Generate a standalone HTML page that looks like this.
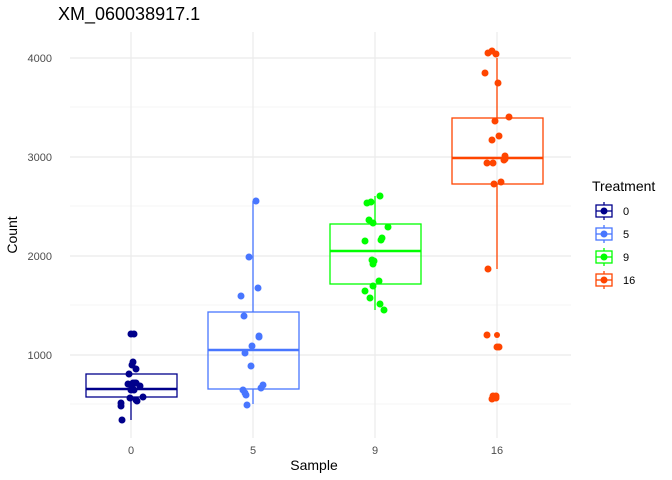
<!DOCTYPE html>
<html><head><style>body{margin:0;background:#fff}svg{display:block}text{font-family:"Liberation Sans",sans-serif}</style></head><body>
<svg width="672" height="480" xmlns="http://www.w3.org/2000/svg">
<rect width="672" height="480" fill="#fff"/>
<g stroke="#ebebeb" stroke-width="0.6">
<line x1="70" x2="571" y1="404" y2="404"/><line x1="70" x2="571" y1="305" y2="305"/><line x1="70" x2="571" y1="206" y2="206"/><line x1="70" x2="571" y1="107" y2="107"/>
</g>
<g stroke="#ebebeb" stroke-width="1.2">
<line x1="70" x2="571" y1="355" y2="355"/><line x1="70" x2="571" y1="256" y2="256"/><line x1="70" x2="571" y1="157" y2="157"/><line x1="70" x2="571" y1="58" y2="58"/>
<line x1="131" x2="131" y1="32" y2="438"/><line x1="253" x2="253" y1="32" y2="438"/><line x1="375" x2="375" y1="32" y2="438"/><line x1="497" x2="497" y1="32" y2="438"/>
</g>
<g font-size="11" fill="#4d4d4d" text-anchor="end">
<text x="52" y="359">1000</text><text x="52" y="260">2000</text><text x="52" y="161">3000</text><text x="52" y="62">4000</text>
</g>
<g font-size="11" fill="#4d4d4d" text-anchor="middle">
<text x="131" y="454">0</text><text x="253" y="454">5</text><text x="375" y="454">9</text><text x="497" y="454">16</text>
</g>
<text x="314" y="470" font-size="14" text-anchor="middle">Sample</text>
<text transform="translate(17,235) rotate(-90)" font-size="14" text-anchor="middle">Count</text>
<text x="58" y="20" font-size="18">XM_060038917.1</text>
<!-- boxes -->
<g fill="none" stroke-width="1.3">
<g stroke="#00008B"><line x1="131" x2="131" y1="397" y2="420"/><rect x="86" y="374" width="91" height="23"/><line x1="86" x2="177" y1="389" y2="389" stroke-width="2.5"/></g>
<g stroke="#4876FF"><line x1="253" x2="253" y1="201" y2="312"/><line x1="253" x2="253" y1="389" y2="404"/><rect x="208" y="312" width="91" height="77"/><line x1="208" x2="299" y1="350" y2="350" stroke-width="2.5"/></g>
<g stroke="#00FF00"><line x1="375" x2="375" y1="196" y2="224"/><line x1="375" x2="375" y1="284" y2="310"/><rect x="330" y="224" width="91" height="60"/><line x1="330" x2="421" y1="251" y2="251" stroke-width="2.5"/></g>
<g stroke="#FF4500"><line x1="497" x2="497" y1="58" y2="118"/><line x1="497" x2="497" y1="184" y2="269"/><rect x="452" y="118" width="91" height="66"/><line x1="452" x2="543" y1="158" y2="158" stroke-width="2.5"/></g>
</g>
<g fill="#00008B">
<circle cx="131" cy="334" r="3.5"/><circle cx="134" cy="334" r="3.5"/><circle cx="133" cy="362" r="3.5"/><circle cx="132" cy="365" r="3.5"/><circle cx="136" cy="369" r="3.5"/><circle cx="129" cy="374" r="3.5"/><circle cx="128" cy="384" r="3.5"/><circle cx="133" cy="383" r="3.5"/><circle cx="136" cy="383" r="3.5"/><circle cx="140" cy="386" r="3.5"/><circle cx="131" cy="390" r="3.5"/><circle cx="134" cy="390" r="3.5"/><circle cx="130" cy="398" r="3.5"/><circle cx="136" cy="400" r="3.5"/><circle cx="143" cy="397" r="3.5"/><circle cx="121" cy="403" r="3.5"/><circle cx="121" cy="406" r="3.5"/><circle cx="122" cy="420" r="3.5"/><circle cx="135" cy="383" r="3.5"/><circle cx="137" cy="401" r="3.5"/><circle cx="132" cy="387" r="3.5"/>
</g>
<g fill="#4876FF">
<circle cx="256" cy="201" r="3.5"/><circle cx="249" cy="257" r="3.5"/><circle cx="258" cy="288" r="3.5"/><circle cx="241" cy="296" r="3.5"/><circle cx="244" cy="316" r="3.5"/><circle cx="259" cy="336" r="3.5"/><circle cx="252" cy="346" r="3.5"/><circle cx="245" cy="353" r="3.5"/><circle cx="251" cy="366" r="3.5"/><circle cx="243" cy="390" r="3.5"/><circle cx="245" cy="393" r="3.5"/><circle cx="246" cy="395" r="3.5"/><circle cx="261" cy="388" r="3.5"/><circle cx="263" cy="385" r="3.5"/><circle cx="247" cy="405" r="3.5"/><circle cx="259" cy="337" r="3.5"/>
</g>
<g fill="#00FF00">
<circle cx="380" cy="196" r="3.5"/><circle cx="367" cy="203" r="3.5"/><circle cx="371" cy="202" r="3.5"/><circle cx="369" cy="220" r="3.5"/><circle cx="373" cy="223" r="3.5"/><circle cx="388" cy="227" r="3.5"/><circle cx="365" cy="241" r="3.5"/><circle cx="382" cy="238" r="3.5"/><circle cx="381" cy="240" r="3.5"/><circle cx="372" cy="260" r="3.5"/><circle cx="374" cy="261" r="3.5"/><circle cx="373" cy="264" r="3.5"/><circle cx="379" cy="281" r="3.5"/><circle cx="373" cy="286" r="3.5"/><circle cx="365" cy="291" r="3.5"/><circle cx="370" cy="298" r="3.5"/><circle cx="380" cy="304" r="3.5"/><circle cx="384" cy="310" r="3.5"/>
</g>
<g fill="#FF4500">
<circle cx="488" cy="53" r="3.5"/><circle cx="492" cy="51" r="3.5"/><circle cx="496" cy="54" r="3.5"/><circle cx="485" cy="73" r="3.5"/><circle cx="498" cy="83" r="3.5"/><circle cx="509" cy="117" r="3.5"/><circle cx="495" cy="121" r="3.5"/><circle cx="499" cy="136" r="3.5"/><circle cx="492" cy="140" r="3.5"/><circle cx="505" cy="156" r="3.5"/><circle cx="505" cy="159" r="3.5"/><circle cx="504" cy="160" r="3.5"/><circle cx="487" cy="163" r="3.5"/><circle cx="493" cy="163" r="3.5"/><circle cx="494" cy="184" r="3.5"/><circle cx="501" cy="182" r="3.5"/><circle cx="488" cy="269" r="3.5"/><circle cx="487" cy="335" r="3.5"/><circle cx="497" cy="335" r="3"/><circle cx="499" cy="347" r="3.5"/><circle cx="497" cy="347" r="3.5"/><circle cx="493" cy="396" r="3.5"/><circle cx="496" cy="396" r="3.5"/><circle cx="492" cy="399" r="3.5"/><circle cx="496" cy="398" r="3.5"/>
</g>
<text x="592" y="191" font-size="14">Treatment</text>
<g stroke-width="1.3" fill="none">
<g stroke="#00008B"><line x1="604" x2="604" y1="202" y2="220"/><rect x="596" y="205" width="16" height="12" fill="#fff"/><line x1="596" x2="612" y1="211" y2="211"/><circle cx="604" cy="211" r="3.5" fill="#00008B" stroke="none"/></g>
<g stroke="#4876FF"><line x1="604" x2="604" y1="225" y2="243"/><rect x="596" y="228" width="16" height="12" fill="#fff"/><line x1="596" x2="612" y1="234" y2="234"/><circle cx="604" cy="234" r="3.5" fill="#4876FF" stroke="none"/></g>
<g stroke="#00FF00"><line x1="604" x2="604" y1="248" y2="266"/><rect x="596" y="251" width="16" height="12" fill="#fff"/><line x1="596" x2="612" y1="257" y2="257"/><circle cx="604" cy="257" r="3.5" fill="#00FF00" stroke="none"/></g>
<g stroke="#FF4500"><line x1="604" x2="604" y1="271" y2="289"/><rect x="596" y="274" width="16" height="12" fill="#fff"/><line x1="596" x2="612" y1="280" y2="280"/><circle cx="604" cy="280" r="3.5" fill="#FF4500" stroke="none"/></g>
</g>
<g font-size="11"><text x="623" y="215">0</text><text x="623" y="238">5</text><text x="623" y="261">9</text><text x="623" y="284">16</text></g>
</svg>
</body></html>
